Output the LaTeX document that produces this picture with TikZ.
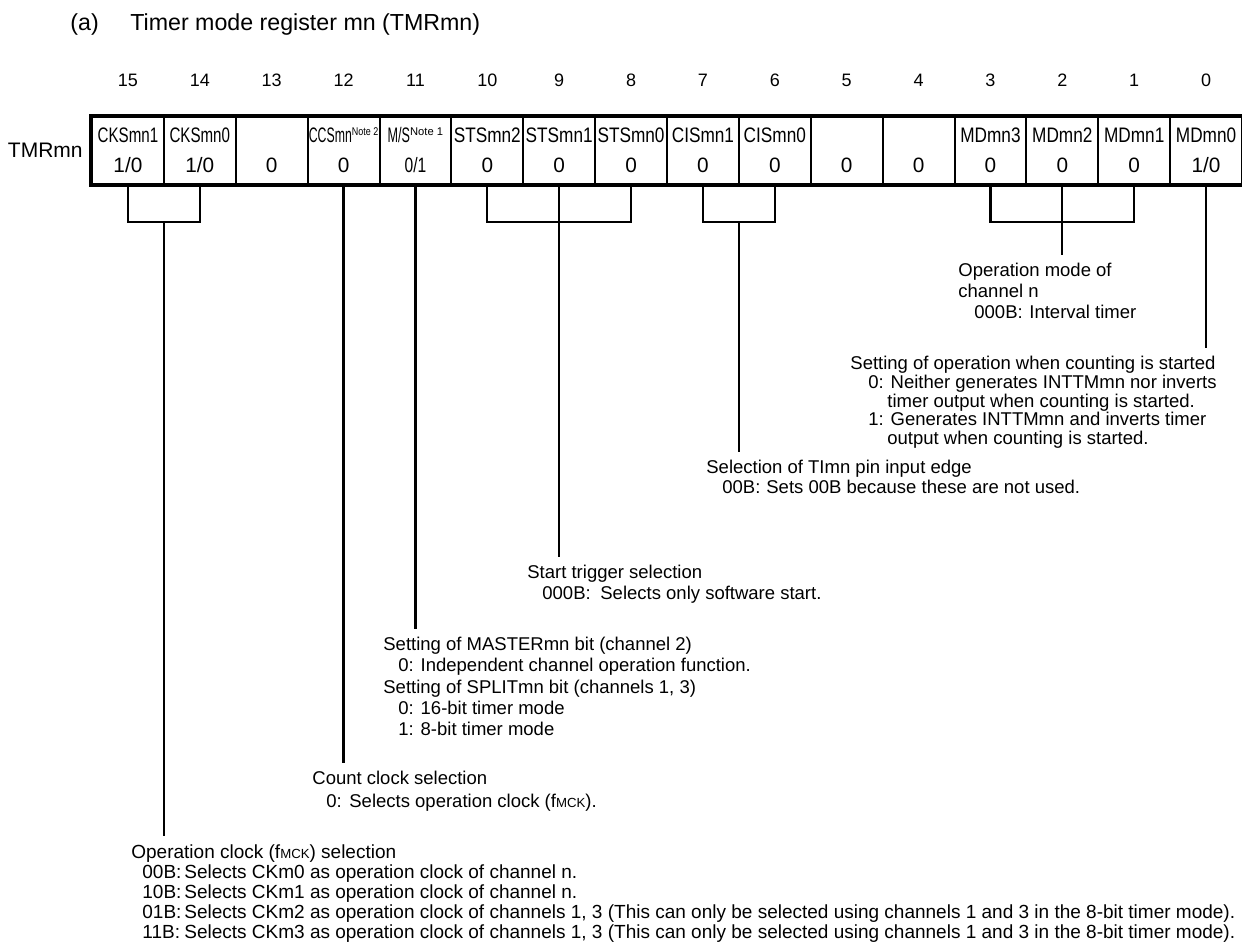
\documentclass[tikz,border=0pt]{standalone}
\usepackage{fontspec}
\setmainfont{Liberation Sans}
\usepackage{graphicx}
\usetikzlibrary{calc,positioning}
\newcommand{\fmck}{f{\fontsize{6.6}{7}\selectfont MCK}}
\newcommand{\notemark}[1]{\raisebox{3.6pt}{\fontsize{5.6}{6}\selectfont Note #1}}
\newcommand{\narrow}[2]{\scalebox{#1}[1]{#2}}
\newcommand{\tab}[2]{\makebox[#1][l]{#2}}

\begin{document}
\begin{tikzpicture}[x=0.5pt,y=-0.5pt,
    cell/.style={draw,line width=1pt,minimum width=35.94pt,minimum height=33.5pt,inner sep=0pt},
    fname/.style={anchor=base,inner sep=0pt,font=\fontsize{10.5}{11}\selectfont},
    fval/.style={anchor=base,inner sep=0pt,font=\fontsize{10.4}{11}\selectfont},
    bitno/.style={anchor=base,inner sep=0pt,font=\fontsize{9}{10}\selectfont},
    desc/.style={anchor=base west,inner sep=0pt,align=left,font=\fontsize{9.25}{10}\selectfont},
    conn/.style={line width=1.1pt},
    stem/.style={conn,shorten >=4pt}]
  \useasboundingbox (0,0) rectangle (1242,945);
  \node[anchor=base west,inner sep=0pt,font=\fontsize{11.6}{13}\selectfont] (tag) at (70,30.5) {(a)};
  \node[anchor=base west,inner sep=0pt,font=\fontsize{11.6}{13}\selectfont] (title) at (130,30.5) {Timer mode register mn (TMRmn)};
  % register cells, bit 15 on the left
  \foreach \bit/\nm/\val in {15/{\narrow{.72}{CKSmn1}}/{1/0},14/{\narrow{.72}{CKSmn0}}/{1/0},13//0,
      12/{\narrow{.585}{CCSmn}\narrow{.8}{\notemark{2}}}/0,11/{\narrow{.6}{M/S}\notemark{1}}/{\narrow{.75}{0/1}},
      10/{\narrow{.82}{STSmn2}}/0,9/{\narrow{.82}{STSmn1}}/0,8/{\narrow{.82}{STSmn0}}/0,
      7/{\narrow{.82}{CISmn1}}/0,6/{\narrow{.82}{CISmn0}}/0,5//0,4//0,
      3/{\narrow{.82}{MDmn3}}/0,2/{\narrow{.82}{MDmn2}}/0,1/{\narrow{.82}{MDmn1}}/0,0/{\narrow{.82}{MDmn0}}/{1/0}}{
    \node[cell] (c\bit) at ({127.94+(15-\bit)*71.875},150.5) {};
    \node[bitno] (n\bit) at ($(c\bit)+(0,-64)$) {\bit};
    \node[fname] (f\bit) at ($(c\bit)+(0,-7.5)$) {\nm};
    \node[fval] (v\bit) at ($(c\bit)+(0,22.5)$) {\val};
  }
  \draw[line width=1.6pt] (c15.north west) rectangle (c0.south east);
  \node[inner sep=0pt,font=\fontsize{10.5}{11}\selectfont,left=4pt of c15] (reg) {TMRmn};

  % descriptions (base = baseline of the last line)
  \node[desc,font=\fontsize{9.25}{10.5}\selectfont] (md) at (958,318.6) {Operation mode of\\channel n\\\hspace*{8pt}\tab{27.5pt}{000B:}Interval timer};
  \node[desc,font=\fontsize{9.25}{9.375}\selectfont] (ops) at (850,444.6) {Setting of operation when counting is started\\
    \hspace*{9pt}0: Neither generates INTTMmn nor inverts\\
    \hspace*{18.5pt}timer output when counting is started.\\
    \hspace*{9pt}1: Generates INTTMmn and inverts timer\\
    \hspace*{18.5pt}output when counting is started.};
  \node[desc] (cis) at (706,493.6) {Selection of TImn pin input edge\\\hspace*{8pt}\tab{22pt}{00B:}Sets 00B because these are not used.};
  \node[desc,font=\fontsize{9.25}{10.5}\selectfont] (sts) at (527,599.6) {Start trigger selection\\\hspace*{7.5pt}\tab{29pt}{000B:}Selects only software start.};
  \node[desc,font=\fontsize{9.25}{10.65}\selectfont] (ms) at (383,735.8) {Setting of MASTERmn bit (channel 2)\\
    \hspace*{7.5pt}0: Independent channel operation function.\\
    Setting of SPLITmn bit (channels 1, 3)\\
    \hspace*{7.5pt}0: 16-bit timer mode\\
    \hspace*{7.5pt}1: 8-bit timer mode};
  \node[desc,font=\fontsize{9.25}{11.65}\selectfont] (ccs) at (312,807.9) {Count clock selection\\\hspace*{7pt}\tab{11.5pt}{0:}Selects operation clock (\fmck).};
  \node[desc,font=\fontsize{9.5}{10}\selectfont] (cks) at (131,938) {Operation clock (\fmck) selection\\
    \hspace*{5.5pt}\tab{21pt}{00B:}Selects CKm0 as operation clock of channel n.\\
    \hspace*{5.5pt}\tab{21pt}{10B:}Selects CKm1 as operation clock of channel n.\\
    \hspace*{5.5pt}\tab{21pt}{01B:}Selects CKm2 as operation clock of channels 1, 3 (This can only be selected using channels 1 and 3 in the 8-bit timer mode).\\
    \hspace*{5.5pt}\tab{21pt}{11B:}Selects CKm3 as operation clock of channels 1, 3 (This can only be selected using channels 1 and 3 in the 8-bit timer mode).};

  % brackets under the fields
  \draw[conn] (c15.south) -- ++(0,37) -| (c14.south);
  \draw[conn] (c10.south) -- ++(0,37) -| (c8.south);
  \draw[conn] (c7.south) -- ++(0,37) -| (c6.south);
  \draw[conn] (c3.south) -- ++(0,37) -| (c1.south);
  \coordinate (ck) at ($(c15.south)!.5!(c14.south)+(0,37)$);
  \coordinate (ci) at ($(c7.south)!.5!(c6.south)+(0,37)$);

  % stems down to the descriptions
  \draw[stem] (ck) -- (ck |- cks.north);
  \draw[stem] (c12.south) -- (c12 |- ccs.north);
  \draw[stem] (c11.south) -- (c11 |- ms.north);
  \draw[stem] (c9.south) -- (c9 |- sts.north);
  \draw[stem] (ci) -- (ci |- cis.north);
  \draw[stem] (c2.south) -- (c2 |- md.north);
  \draw[stem] (c0.south) -- (c0 |- ops.north);
\end{tikzpicture}
\end{document}
